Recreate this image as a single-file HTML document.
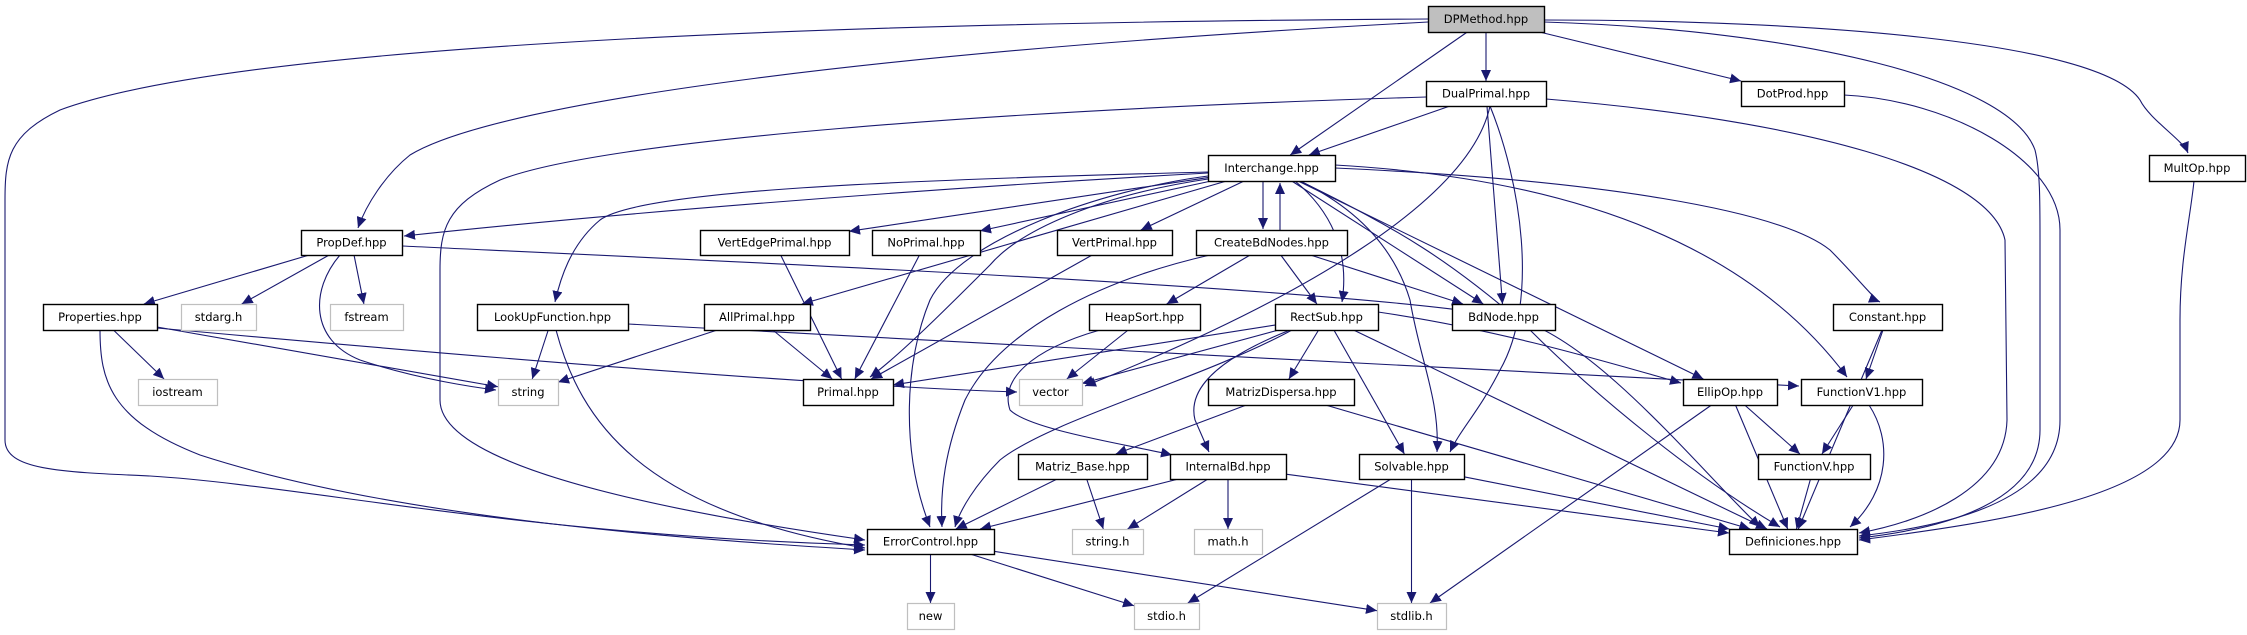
<!DOCTYPE html>
<html><head><meta charset="utf-8">
<style>
html,body{margin:0;padding:0;background:#fff;}
svg{display:block;}
text{font-family:"DejaVu Sans","Liberation Sans",sans-serif;font-size:11.5px;fill:#000;}
</style></head>
<body>
<svg id="g" width="2247" height="635" viewBox="0 0 2247 635" xmlns="http://www.w3.org/2000/svg">
<defs>
<marker id="a" markerUnits="userSpaceOnUse" markerWidth="12" markerHeight="10" refX="11" refY="5" orient="auto">
<path d="M0,0 L11,5 L0,10 Z" fill="#191970"/>
</marker>
</defs>
<g id="edges" fill="none" stroke="#191970" stroke-width="1.1"></g>
<g id="nodes"></g>
</svg>
<script>
var N={
"DPMethod.hpp":[1428,6,116,26,2],
"DualPrimal.hpp":[1426,81,120,25],
"DotProd.hpp":[1741,81,103,25],
"MultOp.hpp":[2149,155,96,26],
"Interchange.hpp":[1208,155,127,26],
"PropDef.hpp":[301,230,101,25],
"VertEdgePrimal.hpp":[700,230,149,25],
"NoPrimal.hpp":[872,230,108,25],
"VertPrimal.hpp":[1057,230,115,25],
"CreateBdNodes.hpp":[1196,230,151,25],
"BdNode.hpp":[1452,304,103,26],
"Constant.hpp":[1833,304,109,26],
"Properties.hpp":[43,304,114,26],
"stdarg.h":[181,304,75,26,1],
"fstream":[330,304,73,26,1],
"LookUpFunction.hpp":[477,304,151,26],
"AllPrimal.hpp":[704,304,106,26],
"HeapSort.hpp":[1089,304,111,26],
"RectSub.hpp":[1275,304,103,26],
"iostream":[138,379,79,26,1],
"string":[498,379,60,26,1],
"Primal.hpp":[803,379,90,26],
"vector":[1019,379,63,26,1],
"MatrizDispersa.hpp":[1208,379,146,26],
"EllipOp.hpp":[1683,379,94,26],
"FunctionV1.hpp":[1801,379,121,26],
"Matriz_Base.hpp":[1018,454,129,25],
"InternalBd.hpp":[1170,454,116,25],
"Solvable.hpp":[1359,454,105,25],
"FunctionV.hpp":[1758,454,112,25],
"ErrorControl.hpp":[867,529,127,25],
"string.h":[1072,529,71,25,1],
"math.h":[1194,529,68,25,1],
"Definiciones.hpp":[1729,529,128,25],
"new":[907,603,47,26,1],
"stdio.h":[1134,603,65,26,1],
"stdlib.h":[1377,603,69,26,1]
};
function c(n){var b=N[n];return [b[0]+b[2]/2,b[1]+b[3]/2];}
function clip(n,from){var b=N[n],cx=b[0]+b[2]/2,cy=b[1]+b[3]/2,dx=from[0]-cx,dy=from[1]-cy;
 var hw=b[2]/2,hh=b[3]/2;var t=Math.min(dx?hw/Math.abs(dx):1e9,dy?hh/Math.abs(dy):1e9);return [cx+dx*t,cy+dy*t];}
var E=[
["DPMethod.hpp","DualPrimal.hpp"],["DPMethod.hpp","Interchange.hpp"],["DPMethod.hpp","DotProd.hpp"],
["DualPrimal.hpp","Interchange.hpp"],
["DualPrimal.hpp","BdNode.hpp"],
["Interchange.hpp","VertEdgePrimal.hpp"],["Interchange.hpp","NoPrimal.hpp"],["Interchange.hpp","VertPrimal.hpp"],
["Interchange.hpp","AllPrimal.hpp"],
["Interchange.hpp","BdNode.hpp"],["Interchange.hpp","EllipOp.hpp"],
["CreateBdNodes.hpp","HeapSort.hpp"],["CreateBdNodes.hpp","RectSub.hpp"],["CreateBdNodes.hpp","BdNode.hpp"],
["PropDef.hpp","Properties.hpp"],["PropDef.hpp","stdarg.h"],["PropDef.hpp","fstream"],
["Properties.hpp","iostream"],["Properties.hpp","string"],
["LookUpFunction.hpp","string"],["AllPrimal.hpp","string"],["AllPrimal.hpp","Primal.hpp"],
["VertEdgePrimal.hpp","Primal.hpp"],["NoPrimal.hpp","Primal.hpp"],["VertPrimal.hpp","Primal.hpp"],
["HeapSort.hpp","vector"],
["RectSub.hpp","Primal.hpp"],["RectSub.hpp","vector"],["RectSub.hpp","MatrizDispersa.hpp"],["RectSub.hpp","Solvable.hpp"],
["RectSub.hpp","Definiciones.hpp"],
["MatrizDispersa.hpp","Matriz_Base.hpp"],
["Matriz_Base.hpp","ErrorControl.hpp"],["Matriz_Base.hpp","string.h"],
["InternalBd.hpp","ErrorControl.hpp"],["InternalBd.hpp","string.h"],["InternalBd.hpp","math.h"],["InternalBd.hpp","Definiciones.hpp"],
["Solvable.hpp","stdio.h"],["Solvable.hpp","stdlib.h"],["Solvable.hpp","Definiciones.hpp"],
["ErrorControl.hpp","new"],["ErrorControl.hpp","stdio.h"],["ErrorControl.hpp","stdlib.h"],
["EllipOp.hpp","FunctionV.hpp"],["EllipOp.hpp","Definiciones.hpp"],["EllipOp.hpp","stdlib.h"],
["FunctionV1.hpp","FunctionV.hpp"],["FunctionV.hpp","Definiciones.hpp"],
["Constant.hpp","FunctionV1.hpp"],["Constant.hpp","Definiciones.hpp"],
["MatrizDispersa.hpp","Definiciones.hpp"]
];
var P=[
"M1428,19 C900,22 250,40 60,110 C8,135 5,160 5,200 L5,440 C5,470 60,472 150,476 C300,485 520,535 865,545",
"M1428,22 C900,50 500,100 410,155 C385,175 366,205 358,228",
"M1426,97 C1000,110 600,140 500,180 C446,205 440,230 440,270 L440,400 C440,460 620,505 865,540",
"M1544,22 C1800,30 2010,80 2035,150 C2040,170 2040,200 2040,240 L2040,430 C2040,500 1950,528 1859,538",
"M1544,20 C1800,20 2100,40 2140,100 C2150,120 2183,140 2188,153",
"M1546,99 C1800,120 1990,170 2005,240 L2007,420 C2005,490 1920,522 1859,533",
"M1844,95 C1950,100 2060,160 2060,230 L2060,420 C2060,500 1950,526 1859,536",
"M2194,181 C2190,220 2180,260 2180,320 L2180,420 C2180,495 2000,522 1859,540",
"M1208,173 C900,190 600,215 404,236",
"M1208,172 C900,180 640,190 600,220 C570,245 560,280 555,302",
"M1208,176 C1100,190 960,240 930,300 C905,360 900,450 930,527",
"M1208,179 C1100,195 1020,230 990,265 C950,305 900,355 870,377",
"M1300,181 C1400,230 1450,260 1530,330 C1600,400 1700,480 1780,527",
"M1335,168 C1600,180 1780,210 1830,250 C1855,275 1875,300 1880,302",
"M1335,165 C1600,180 1760,260 1847,377",
"M1300,181 C1360,210 1395,250 1410,300 C1420,360 1440,400 1437,452",
"M1490,106 C1520,180 1540,300 1500,370 C1480,410 1460,430 1450,452",
"M1869,405 C1892,440 1890,490 1850,527",
"M1295,181 C1330,210 1350,250 1342,302",
"M1263,181 L1263,229",
"M1280,230 L1280,183",
"M1210,255 C1100,280 1000,330 965,400 C945,450 940,490 942,527",
"M1100,330 C1030,350 1000,380 1010,410 C1030,430 1130,445 1172,455",
"M340,255 C310,290 310,340 360,360 C420,380 480,388 496,390",
"M402,246 C700,260 1400,290 1520,320 C1600,345 1700,470 1760,527",
"M157,328 C400,350 800,385 1017,392",
"M628,324 C900,340 1500,370 1799,386",
"M556,330 C580,420 640,510 865,548",
"M100,330 C100,380 110,420 200,455 C400,520 700,540 865,550",
"M1292,330 C1200,380 1050,420 1000,460 C975,485 960,510 955,527",
"M1290,330 C1240,350 1185,380 1195,420 L1209,452",
"M1378,312 C1500,330 1600,360 1681,383",
"M1490,106 C1470,200 1300,300 1085,386"
];
var eg=document.getElementById('edges'),ns="http://www.w3.org/2000/svg";
function path(d){var p=document.createElementNS(ns,'path');p.setAttribute('d',d);p.setAttribute('marker-end','url(#a)');eg.appendChild(p);}
E.forEach(function(e){if(!N[e[1]])return;var s=c(e[0]),t=c(e[1]);var a=clip(e[0],t),b=clip(e[1],s);path("M"+a[0]+","+a[1]+" L"+b[0]+","+b[1]);});
P.forEach(path);
var ng=document.getElementById('nodes');
for(var k in N){var b=N[k];var r=document.createElementNS(ns,'rect');r.setAttribute('x',b[0]+.5);r.setAttribute('y',b[1]+.5);r.setAttribute('width',b[2]);r.setAttribute('height',b[3]);
r.setAttribute('fill',b[4]==2?'#bfbfbf':'#fff');r.setAttribute('stroke',b[4]==1?'#bfbfbf':'#000');r.setAttribute('stroke-width',b[4]==1?1.2:1.4);ng.appendChild(r);
var t=document.createElementNS(ns,'text');t.setAttribute('x',b[0]+b[2]/2);t.setAttribute('y',b[1]+b[3]/2+4);t.setAttribute('text-anchor','middle');t.textContent=k;ng.appendChild(t);}
</script>
</body></html>
